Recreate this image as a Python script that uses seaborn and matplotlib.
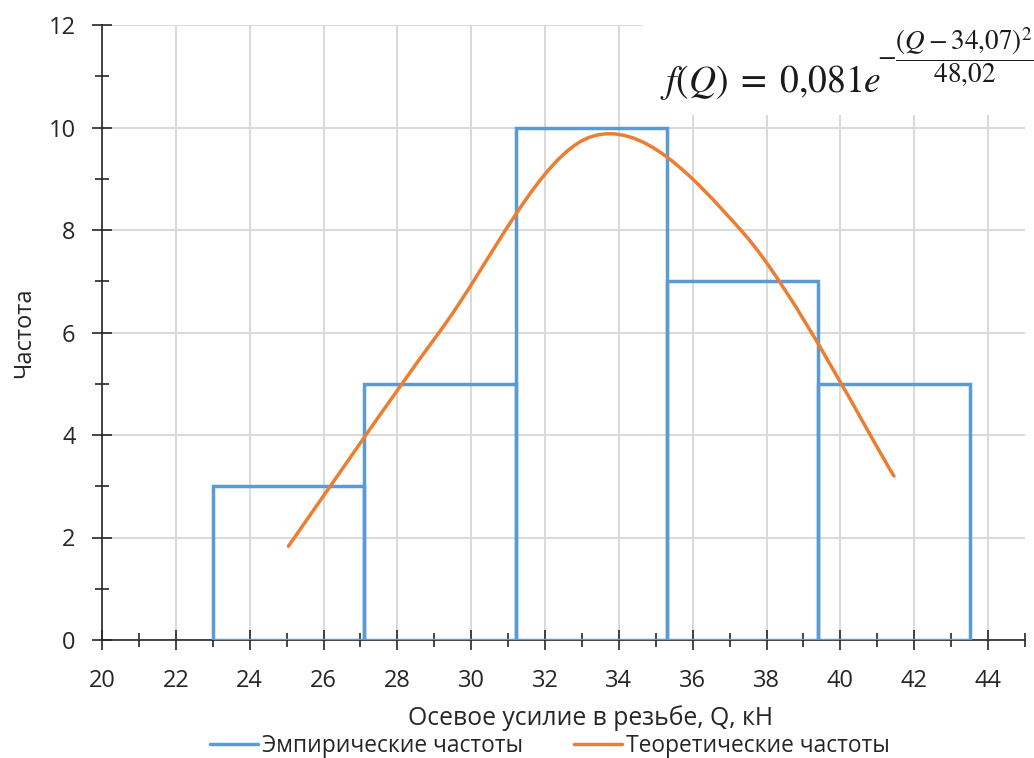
import numpy as np
import matplotlib
matplotlib.use("Agg")
import matplotlib.pyplot as plt
import seaborn as sns
from matplotlib.path import Path
from matplotlib.patches import PathPatch, Rectangle
from matplotlib.lines import Line2D
from matplotlib.ticker import MultipleLocator

# data
bin_edges = [23.0, 27.1, 31.2, 35.3, 39.4, 43.5]
emp_counts = [3, 5, 10, 7, 5]
theor_x = [25.05, 29.15, 33.25, 37.35, 41.45]
theor_y = [1.83, 6.02, 9.82, 7.96, 3.2]
x_label = "Осевое усилие в резьбе, Q, кН"
y_label = "Частота"
legend_labels = ["Эмпирические частоты", "Теоретические частоты"]
formula_main = r"$f(Q)\;=\;0{,}081e$"
formula_exp = r"$-\dfrac{(Q-34{,}07)^2}{48{,}02}$"

sns.set_theme(style="white")
plt.rcParams['font.family'] = ['Open Sans', 'DejaVu Sans']
plt.rcParams['mathtext.fontset'] = 'stix'

BLUE = "#5B9BD5"
ORANGE = "#ED7D31"
DARK = "#262626"

W, H = 1034, 758
fig = plt.figure(figsize=(W / 100, H / 100), dpi=100)
ax = fig.add_axes([102 / W, 1 - 640 / H, 923 / W, 615 / H])

mids = [(bin_edges[i] + bin_edges[i + 1]) / 2 for i in range(len(emp_counts))]
sns.histplot(x=mids, weights=emp_counts, bins=bin_edges, element="bars",
             fill=False, color=BLUE, linewidth=2.5, ax=ax, zorder=3)
for p in ax.patches:
    p.set_edgecolor(BLUE)

# smoothed line (Catmull-Rom style Bezier, like Excel smoothing)
pts = np.column_stack([theor_x, theor_y])
n = len(pts)
verts = [pts[0]]
codes = [Path.MOVETO]
for i in range(n - 1):
    p0 = pts[i - 1] if i > 0 else pts[i]
    p1 = pts[i]
    p2 = pts[i + 1]
    p3 = pts[i + 2] if i + 2 < n else pts[i + 1]
    c1 = p1 + (p2 - p0) / 6.0
    c2 = p2 - (p3 - p1) / 6.0
    verts += [c1, c2, p2]
    codes += [Path.CURVE4] * 3
ax.add_patch(PathPatch(Path(verts, codes), facecolor="none", edgecolor=ORANGE,
                       linewidth=2.5, zorder=4, capstyle="round"))

ax.set_xlim(20, 45)
ax.set_ylim(0, 12)
ax.xaxis.set_major_locator(MultipleLocator(2))
ax.xaxis.set_minor_locator(MultipleLocator(1))
ax.yaxis.set_major_locator(MultipleLocator(2))
ax.yaxis.set_minor_locator(MultipleLocator(1))
ax.grid(True, which="major", color="#D9D9D9", linewidth=1.4, zorder=0)
ax.set_axisbelow(True)
for s in ["top", "right"]:
    ax.spines[s].set_visible(False)
for s in ["left", "bottom"]:
    ax.spines[s].set_color(DARK)
    ax.spines[s].set_linewidth(1.2)
ax.tick_params(which="major", direction="inout", length=14, width=1.2,
               color=DARK, labelsize=17, labelcolor=DARK)
ax.tick_params(axis="y", which="major", pad=12)
ax.tick_params(axis="x", which="major", pad=14)
ax.tick_params(which="minor", direction="inout", length=10, width=1.2,
               color=DARK)
ax.tick_params(axis="x", which="both", bottom=True)
ax.tick_params(axis="y", which="both", left=True)
ax.set_xlabel("")
ax.set_ylabel(y_label, fontsize=17, color=DARK, labelpad=9)
fig.text(591 / W, 1 - 718 / H, x_label, fontsize=17.8, color=DARK,
         ha="center", va="center")

# white box behind formula (covers grid as in the original)
fig.patches.append(Rectangle((642 / W, 1 - 115 / H), (W - 642) / W, 115 / H,
                             transform=fig.transFigure, facecolor="white",
                             edgecolor="none", zorder=5))
fig.text(660 / W, 1 - 92 / H, formula_main, fontsize=27, color="#1a1a1a",
         ha="left", va="baseline", zorder=10)
fig.text(877 / W, 1 - 57 / H, formula_exp, fontsize=19.5, color="#1a1a1a",
         ha="left", va="center", zorder=10)

handles = [Line2D([], [], color=BLUE, linewidth=2.5),
           Line2D([], [], color=ORANGE, linewidth=2.5)]
fig.legend(handles, legend_labels, loc="center", bbox_to_anchor=(550 / W, 1 - 746 / H),
           ncol=2, frameon=False, fontsize=16.4, handlelength=2.1, columnspacing=2.2,
           handletextpad=0.2, labelcolor=DARK, borderpad=0, borderaxespad=0)

fig.savefig("out.png", dpi=100)
